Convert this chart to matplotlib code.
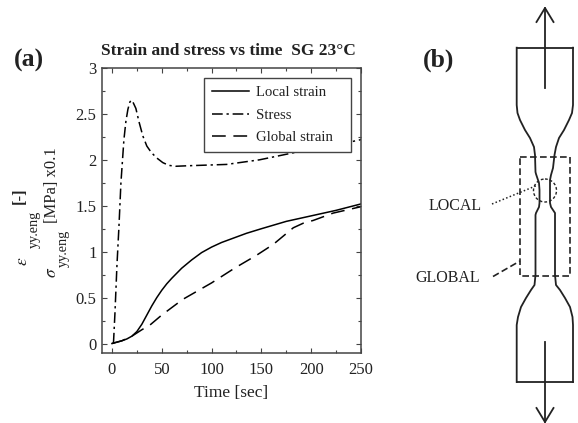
# strain and stress vs time (a), specimen sketch (b)

import matplotlib
matplotlib.use("Agg")
import matplotlib.pyplot as plt
from matplotlib.patches import Circle, Rectangle
from matplotlib.ticker import MultipleLocator

plt.rcParams["font.family"] = ["Liberation Serif", "DejaVu Serif"]
plt.rcParams["mathtext.fontset"] = "stix"

DARK = "#222222"
GREY = "#444444"

# curves
localTime = [0, 5, 10, 15, 20, 25, 30, 35, 40, 45, 50, 55, 60, 70, 80, 90, 100, 110, 120, 135, 150, 175, 200, 225, 250]
localStrain = [0, 0.015, 0.03, 0.05, 0.08, 0.13, 0.21, 0.31, 0.41, 0.5, 0.58, 0.65, 0.71, 0.82, 0.91, 0.99, 1.05, 1.1, 1.14, 1.2, 1.25, 1.33, 1.39, 1.45, 1.52]
globalTime = [0, 10, 20, 30, 38, 50, 71, 100, 123, 145, 162, 172, 182, 192, 202, 222, 250]
globalStrain = [0, 0.03, 0.08, 0.15, 0.2, 0.31, 0.48, 0.66, 0.82, 0.96, 1.08, 1.17, 1.26, 1.31, 1.34, 1.42, 1.49]
stressTime = [1.5, 3, 5, 7, 9, 12, 14, 16, 18, 19.5, 21, 24, 27, 31, 35, 39.5, 45, 51, 57, 64, 75, 88, 115, 148, 188, 220, 250]
stress = [0, 0.33, 0.85, 1.27, 1.75, 2.22, 2.42, 2.55, 2.63, 2.65, 2.63, 2.56, 2.42, 2.26, 2.15, 2.08, 2.02, 1.97, 1.94, 1.93, 1.935, 1.94, 1.95, 2.0, 2.09, 2.15, 2.22]

# specimen outline, in picture pixels
leftX = [516.7, 516.7, 517.5, 520, 525, 530, 534, 535, 535.5, 535.5, 536, 539, 539.5, 539.5, 539, 536, 535.5, 535.5, 534.5, 531, 526, 521, 518, 516.7, 516.7]
leftY = [47.7, 105, 113, 120, 130, 138, 147, 155, 172, 172, 174, 183, 190, 203, 207, 213, 215, 275, 285, 290, 298, 307, 317, 325, 382]
rightX = [573, 573, 572, 569, 564, 559, 556, 554.5, 553, 551, 550, 550, 551, 555, 555, 555, 556, 560, 565, 570, 572.5, 573, 573]
rightY = [47.7, 105, 113, 120, 130, 138, 147, 155, 168, 175, 180, 203, 207, 213, 225, 275, 285, 290, 298, 307, 317, 325, 382]

fig = plt.figure(figsize=(5.78, 4.23), dpi=100)
ax = fig.add_axes([102 / 578, 1 - 352.7 / 423, 259 / 578, 284.7 / 423])

ax.plot(localTime, localStrain, color="black", lw=1.1, ls="-", label="Local strain")
ax.plot(stressTime, stress, color="black", lw=1.1, ls=(0, (7, 2.5, 1.5, 2.5)), label="Stress")
# en and thin space keep the empty room right of the text inside the legend box
ax.plot(globalTime, globalStrain, color="black", lw=1.1, ls=(0, (9, 5)), label="Global strain\u2002\u2009")

ax.set_xlim(-10, 250)
ax.set_ylim(-0.1, 3)
ax.xaxis.set_major_locator(MultipleLocator(50))
ax.xaxis.set_minor_locator(MultipleLocator(25))
ax.yaxis.set_major_locator(MultipleLocator(0.5))
ax.yaxis.set_minor_locator(MultipleLocator(0.25))
ax.set_yticks([0, 0.5, 1, 1.5, 2, 2.5, 3])
ax.set_yticklabels(["0", "0.5", "1", "1.5", "2", "2.5", "3"])
ax.tick_params(which="both", direction="in", top=True, right=True, color=GREY, width=0.8,
               labelsize=12, labelcolor=DARK)
ax.tick_params(axis="x", pad=7)
ax.tick_params(axis="y", pad=4)
ax.tick_params(which="major", length=3.5)
ax.tick_params(which="minor", length=2)
for spine in ax.spines.values():
    spine.set_color(GREY)
    spine.set_linewidth(1.1)

leg = ax.legend(loc="upper right", bbox_to_anchor=(0.9615, 0.965), borderaxespad=0, fontsize=10.6,
                fancybox=False, framealpha=1, edgecolor=GREY, handlelength=2.5, labelspacing=0.62,
                borderpad=0.55, handletextpad=0.48)
leg.get_frame().set_linewidth(1.0)
for text in leg.get_texts():
    text.set_color(DARK)

fig.text(228 / 578, 1 - 51 / 423, "Strain and stress vs time  SG 23°C", ha="center", va="center",
         fontsize=12.5, fontweight="bold", color=DARK)
fig.text(231 / 578, 1 - 393 / 423, "Time [sec]", ha="center", va="center", fontsize=12.5, color=DARK)

# y label pieces, subscripts sit well below the symbol in the original
fig.text(23 / 578, 1 - 261 / 423, r"$\epsilon$", rotation=90, ha="center", va="center", fontsize=12.5, color=DARK)
fig.text(34 / 578, 1 - 229 / 423, "yy.eng", rotation=90, ha="center", va="center", fontsize=10.2, color=DARK)
fig.text(20 / 578, 1 - 196 / 423, "[-]", rotation=90, ha="center", va="center", fontsize=12, fontweight="bold", color=DARK)
fig.text(52 / 578, 1 - 272 / 423, r"$\sigma$", rotation=90, ha="center", va="center", fontsize=12.5, color=DARK)
fig.text(63 / 578, 1 - 248 / 423, "yy.eng", rotation=90, ha="center", va="center", fontsize=10.2, color=DARK)
fig.text(52 / 578, 1 - 185 / 423, "[MPa] x0.1", rotation=90, ha="center", va="center", fontsize=12, color=DARK)

fig.text(29 / 578, 1 - 60 / 423, "(a)", ha="center", va="center", fontsize=18.5, fontweight="bold", color=DARK)
fig.text(439 / 578, 1 - 60 / 423, "(b)", ha="center", va="center", fontsize=18.5, fontweight="bold", color=DARK)

# sketch is drawn on a full figure axes in pixel units
sk = fig.add_axes([0, 0, 1, 1], facecolor="none")
sk.set_xlim(0, 578)
sk.set_ylim(423, 0)
sk.axis("off")

sk.plot(leftX, leftY, color=DARK, lw=1.3)
sk.plot(rightX, rightY, color=DARK, lw=1.3)
sk.plot([516.7, 573], [47.7, 47.7], color=DARK, lw=1.3)
sk.plot([516.7, 573], [382, 382], color=DARK, lw=1.3)

# arrows
sk.plot([545, 545], [88, 8], color=DARK, lw=1.3)
sk.plot([536.5, 545, 553.5], [22, 8, 22], color=DARK, lw=1.3)
sk.plot([545, 545], [342, 422], color=DARK, lw=1.3)
sk.plot([536.5, 545, 553.5], [408, 422, 408], color=DARK, lw=1.3)

# gauge regions and their leaders
sk.add_patch(Rectangle((520, 156.7), 50, 119.3, fill=False, ec=DARK, lw=1.2, ls=(0, (4, 2))))
sk.add_patch(Circle((545, 190.5), 11.5, fill=False, ec=DARK, lw=1.0, ls=(0, (2, 1.5))))
sk.plot([492, 538], [204, 185], color=DARK, lw=1.1, ls=(0, (1, 1.5)))
sk.plot([493, 520], [276.5, 261], color=DARK, lw=1.2, ls=(0, (4, 2)))

sk.text(455, 206, "LOCAL", ha="center", va="center", fontsize=11.5, color=DARK)
sk.text(447.5, 277.5, "GLOBAL", ha="center", va="center", fontsize=11.5, color=DARK)

fig.savefig("out.png", dpi=100)
